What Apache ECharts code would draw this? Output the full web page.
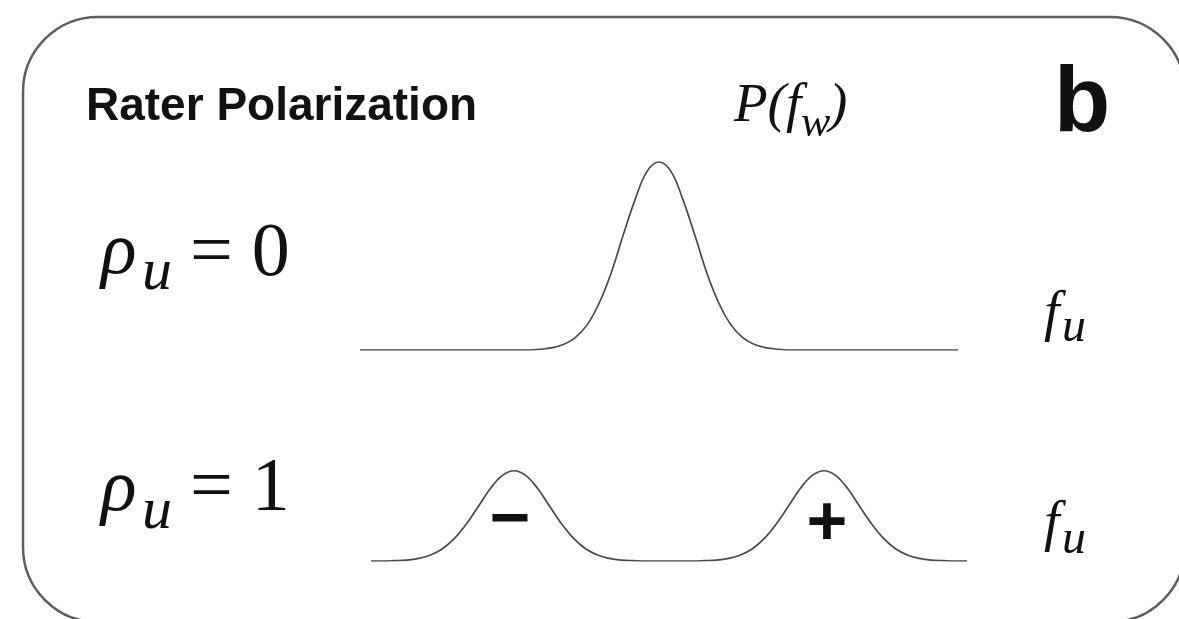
<!DOCTYPE html>
<html>
<head>
<meta charset="utf-8">
<script src="https://cdn.jsdelivr.net/npm/echarts@6/dist/echarts.min.js"></script>
<style>
html,body{margin:0;padding:0;background:#fff;}
#chart{width:1179px;height:619px;}
</style>
</head>
<body>
<div id="chart"></div>
<script>
// ---- data ----
const titleText = "Rater Polarization";
const panelLetter = "b";
const rowLabels = ["0", "1"];
const signLabels = ["\u2212", "+"];

// rho_u = 0 : single unimodal distribution (x: 0..100 along f_u, y: relative density)
const topCurveX = [0, 28, 30, 32, 34, 36, 38, 40, 42, 44, 46, 48, 50, 52, 54, 56, 58, 60, 62, 64, 66, 68, 70, 72, 100];
const topCurveY = [0, 0, 0.4, 1.1, 2.9, 6.6, 13.5, 25, 41, 61, 80, 95, 100, 95, 80, 61, 41, 25, 13.5, 6.6, 2.9, 1.1, 0.4, 0, 0];

// rho_u = 1 : two separated modes (− and +)
const bottomCurveX = [0, 2, 4, 6, 8, 10, 12, 14, 16, 18, 20, 22, 24, 26, 28, 30, 32, 34, 36, 38, 40, 42, 44, 46, 50, 54,
  56, 58, 60, 62, 64, 66, 68, 70, 72, 74, 76, 78, 80, 82, 84, 86, 88, 90, 92, 94, 96, 98, 100];
const bottomCurveY = [0, 0, 0.2, 0.5, 1.4, 3.2, 6.5, 12, 19.7, 29, 38.4, 45.4, 48, 45.4, 38.4, 29, 19.7, 12, 6.5, 3.2, 1.4, 0.5, 0.2, 0, 0, 0,
  0.2, 0.5, 1.4, 3.2, 6.5, 12, 19.7, 29, 38.4, 45.4, 48, 45.4, 38.4, 29, 19.7, 12, 6.5, 3.2, 1.4, 0.5, 0.2, 0, 0];

const toPairs = (xs, ys) => xs.map((x, i) => [x, ys[i]]);

const SERIF = "'Liberation Serif', 'Times New Roman', serif";
const SANS = "'Liberation Sans', Arial, Helvetica, sans-serif";
const INK = "#111";

function txt(text, x, y, font, align) {
  return {
    type: 'text', x: x, y: y, z: 10,
    style: {
      text: text, font: font, fill: INK,
      align: align || 'left', textAlign: align || 'left',
      verticalAlign: 'middle', textVerticalAlign: 'middle'
    }
  };
}

const chart = echarts.init(document.getElementById('chart'), null, {renderer: 'canvas'});
const option = {
  animation: false,
  backgroundColor: '#ffffff',
  grid: [
    {left: 360, width: 598, top: 162, height: 188},
    {left: 371, width: 596, top: 373, height: 188}
  ],
  xAxis: [
    {type: 'value', gridIndex: 0, min: 0, max: 100, show: false},
    {type: 'value', gridIndex: 1, min: 0, max: 100, show: false}
  ],
  yAxis: [
    {type: 'value', gridIndex: 0, min: 0, max: 100, show: false},
    {type: 'value', gridIndex: 1, min: 0, max: 100, show: false}
  ],
  series: [
    {type: 'line', xAxisIndex: 0, yAxisIndex: 0, data: toPairs(topCurveX, topCurveY),
      smooth: 0.4, showSymbol: false, lineStyle: {color: '#4a4a4a', width: 1.7}},
    {type: 'line', xAxisIndex: 1, yAxisIndex: 1, data: toPairs(bottomCurveX, bottomCurveY),
      smooth: 0.4, showSymbol: false, lineStyle: {color: '#4a4a4a', width: 1.7}}
  ],
  graphic: [
    {type: 'rect', shape: {x: 23, y: 17, width: 1162, height: 605, r: 75},
      style: {fill: 'none', stroke: '#5e5e5e', lineWidth: 2.5}, z: 1},
    txt(titleText, 86, 107, 'bold 46px ' + SANS),
    txt(panelLetter, 1054, 106, 'bold 92px ' + SANS),
    // P(f_w)
    txt('P(f', 734, 107, 'italic 55px ' + SERIF),
    txt('w', 801, 124, 'italic 44px ' + SERIF),
    txt(')', 829, 107, 'italic 55px ' + SERIF),
    // rho_u = 0
    txt('\u03C1', 101, 254, 'italic 74px ' + SERIF),
    txt('u', 142, 273, 'italic 60px ' + SERIF),
    txt('= ' + rowLabels[0], 190, 255, '76px ' + SERIF),
    // rho_u = 1
    txt('\u03C1', 101, 491, 'italic 74px ' + SERIF),
    txt('u', 142, 512, 'italic 60px ' + SERIF),
    txt('= ' + rowLabels[1], 190, 490, '76px ' + SERIF),
    // f_u labels
    txt('f', 1044, 315, 'italic 56px ' + SERIF),
    txt('u', 1062, 328, 'italic 48px ' + SERIF),
    txt('f', 1044, 525, 'italic 56px ' + SERIF),
    txt('u', 1062, 540, 'italic 48px ' + SERIF),
    // signs
    txt(signLabels[0], 510, 522, 'bold 70px ' + SANS, 'center'),
    txt(signLabels[1], 827, 526, 'bold 70px ' + SANS, 'center')
  ]
};
chart.setOption(option);
</script>
</body>
</html>
